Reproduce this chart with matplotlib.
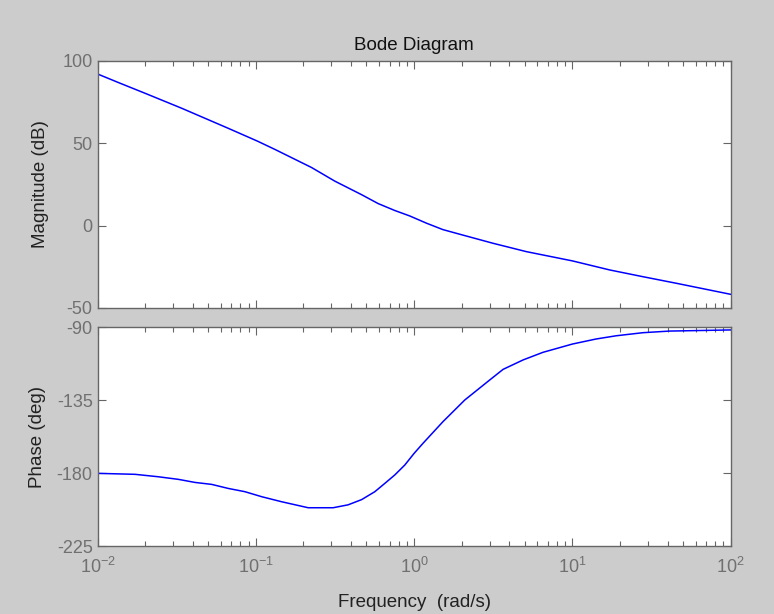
import numpy as np
import matplotlib.pyplot as plt
from matplotlib.ticker import LogLocator, FixedLocator

plt.rcParams['font.family'] = ['Liberation Sans', 'DejaVu Sans']
plt.rcParams['axes.unicode_minus'] = False

# Magnitude readings (rad/s, dB)
mag_freq = [0.01, 0.01387, 0.01995, 0.034, 0.067, 0.102, 0.132, 0.225, 0.316, 0.466,
            0.593, 0.755, 0.938, 1.197, 1.52, 1.94, 3.15, 5.13, 10.0, 17.2, 27.9, 45.4, 100]
mag_db = [92.1, 86.5, 80.4, 71.3, 59.1, 51.4, 46.3, 35.3, 27.0, 18.8,
          13.4, 9.2, 5.9, 1.5, -2.4, -5.2, -10.7, -15.8, -21.4, -26.9, -31.0, -35.0, -41.7]

# Phase readings (rad/s, deg)
phase_freq = [0.01, 0.01726, 0.0242, 0.0324, 0.0413, 0.0526, 0.067, 0.0853, 0.109, 0.1456,
              0.2143, 0.308, 0.383, 0.466, 0.565, 0.653, 0.755, 0.873, 1.0, 1.138, 1.52,
              2.09, 3.0, 3.65, 4.88, 6.52, 10.0, 14.1, 18.9, 27.9, 41.1, 100]
phase_deg = [-180.2, -180.8, -182.3, -183.9, -185.8, -187.0, -189.5, -191.5, -194.6, -197.7,
             -201.4, -201.4, -199.6, -196.4, -191.5, -186.4, -181.2, -175.1, -167.9, -161.7, -148.4,
             -135.0, -122.7, -116.1, -110.3, -105.6, -100.5, -97.4, -95.4, -93.5, -92.5, -91.8]

mag_ticks = [-50, 0, 50, 100]
phase_ticks = [-225, -180, -135, -90]

bg = '#cccccc'
edge = '#666666'
tick_col = '#707070'
line_col = '#0000ff'

fig = plt.figure(figsize=(7.74, 6.14), dpi=100, facecolor=bg)
ax1 = fig.add_axes([0.126, 0.4984, 0.818, 0.4023])
ax2 = fig.add_axes([0.126, 0.1107, 0.818, 0.3567])

ax1.semilogx(mag_freq, mag_db, color=line_col, lw=1.1)
ax2.semilogx(phase_freq, phase_deg, color=line_col, lw=1.1)

for ax in (ax1, ax2):
    ax.set_xlim(1e-2, 1e2)
    ax.set_facecolor('white')
    for s in ax.spines.values():
        s.set_color(edge)
        s.set_linewidth(1.0)
    ax.xaxis.set_major_locator(LogLocator(base=10, numticks=10))
    ax.xaxis.set_minor_locator(LogLocator(base=10, subs=np.arange(2, 10), numticks=10))
    ax.tick_params(which='both', direction='in', top=True, right=True,
                   colors=edge, labelcolor=tick_col, labelsize=13, width=0.8)
    ax.tick_params(which='major', length=6)
    ax.tick_params(which='minor', length=3.5)

ax1.set_ylim(-50, 100)
ax1.yaxis.set_major_locator(FixedLocator(mag_ticks))
ax1.tick_params(labelbottom=False)
ax1.set_ylabel('Magnitude (dB)', fontsize=13.5, color='#222222', labelpad=10)
ax1.set_title('Bode Diagram', fontsize=13.5, color='#111111', pad=8)

ax2.set_ylim(-225, -90)
ax2.yaxis.set_major_locator(FixedLocator(phase_ticks))
ax2.set_ylabel('Phase (deg)', fontsize=13.5, color='#222222', labelpad=8)
ax2.set_xlabel('Frequency  (rad/s)', fontsize=13.5, color='#222222', labelpad=12)
ax2.tick_params(axis='x', pad=8)

fig.savefig('out.png', dpi=100, facecolor=bg)
